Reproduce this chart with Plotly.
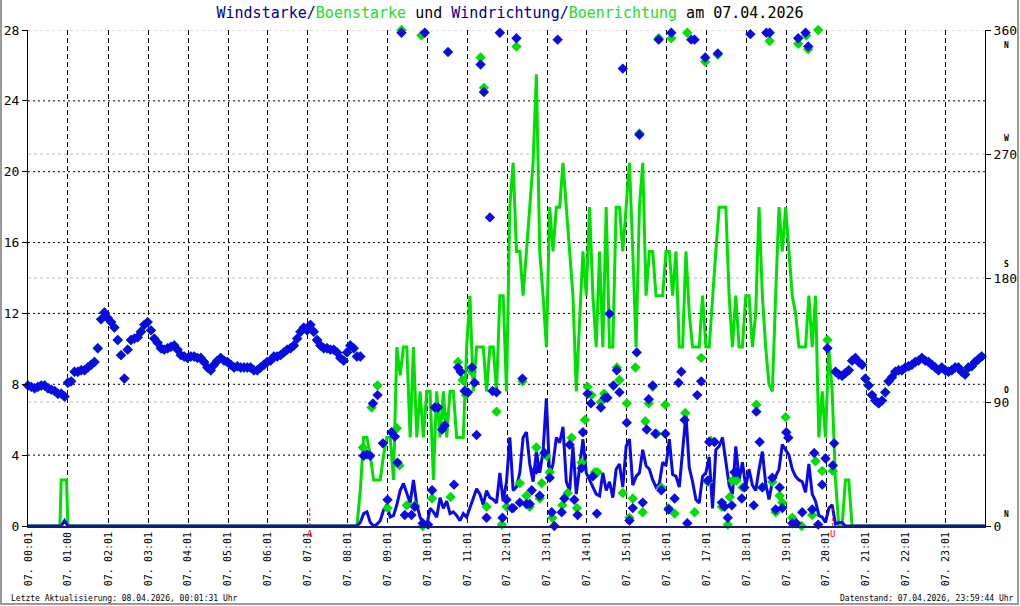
import plotly.graph_objects as go

# ---------------- data ----------------
tick_times = ["00:01", "01:00", "02:01", "03:01", "04:01", "05:01", "06:01", "07:01",
              "08:01", "09:01", "10:01", "11:01", "12:01", "13:01", "14:01", "15:01",
              "16:01", "17:01", "18:01", "19:01", "20:01", "21:01", "22:01", "23:01"]
day_prefix = "07."

# Boenstarke (gust speed) samples (time, value)
gust = [("00:00", 0), ("00:48", 0), ("00:50", 2.6), ("00:58", 2.6), ("01:00", 0),
        ("08:15", 0), ("08:20", 2.0), ("08:25", 5.0), ("08:30", 5.0), ("08:35", 4.0), ("08:40", 2.6),
        ("08:45", 2.6), ("08:50", 2.6), ("08:55", 4.0), ("09:00", 5.0), ("09:05", 5.0), ("09:10", 2.6),
        ("09:15", 10.1), ("09:20", 8.5), ("09:25", 10.1), ("09:30", 10.1), ("09:35", 5.0), ("09:40", 10.1),
        ("09:45", 5.0), ("09:50", 7.6), ("09:55", 5.0), ("10:00", 7.6), ("10:05", 7.6), ("10:10", 2.6),
        ("10:15", 7.6), ("10:20", 5.0), ("10:25", 7.6), ("10:30", 5.0), ("10:35", 7.6), ("10:40", 7.6),
        ("10:45", 5.0), ("10:50", 5.0), ("10:55", 5.0), ("11:00", 10.1), ("11:05", 13.0), ("11:10", 7.6),
        ("11:15", 10.1), ("11:20", 10.1), ("11:25", 10.1), ("11:30", 7.6), ("11:35", 10.1), ("11:40", 10.1),
        ("11:45", 7.6), ("11:50", 13.0), ("11:55", 13.0), ("12:00", 7.6), ("12:05", 18.0), ("12:10", 20.5),
        ("12:15", 15.5), ("12:20", 15.5), ("12:25", 13.0), ("12:30", 15.5), ("12:35", 18.0), ("12:40", 20.5),
        ("12:45", 25.5), ("12:50", 15.5), ("12:55", 13.0), ("13:00", 10.1), ("13:05", 18.0), ("13:10", 15.5),
        ("13:15", 18.0), ("13:20", 18.0), ("13:25", 20.5), ("13:30", 18.0), ("13:35", 15.5), ("13:40", 13.0),
        ("13:45", 7.6), ("13:50", 12.0), ("13:55", 15.5), ("14:00", 13.0), ("14:05", 18.0), ("14:10", 13.0),
        ("14:15", 10.1), ("14:20", 15.5), ("14:25", 10.1), ("14:30", 18.0), ("14:35", 10.1), ("14:40", 10.1),
        ("14:45", 18.0), ("14:50", 18.0), ("14:55", 15.5), ("15:00", 18.0), ("15:05", 20.5), ("15:10", 15.5),
        ("15:15", 10.1), ("15:20", 18.0), ("15:25", 20.5), ("15:30", 13.0), ("15:35", 15.5), ("15:40", 15.5),
        ("15:45", 13.0), ("15:50", 13.0), ("15:55", 13.0), ("16:00", 15.5), ("16:05", 15.5), ("16:10", 13.0),
        ("16:15", 15.5), ("16:20", 10.1), ("16:25", 10.1), ("16:30", 15.5), ("16:35", 12.0), ("16:40", 10.1),
        ("16:45", 10.1), ("16:50", 10.1), ("16:55", 13.0), ("17:00", 10.1), ("17:05", 10.1), ("17:10", 13.0),
        ("17:15", 15.5), ("17:20", 18.0), ("17:25", 18.0), ("17:30", 18.0), ("17:35", 13.0), ("17:40", 10.1),
        ("17:45", 13.0), ("17:50", 10.1), ("17:55", 10.1), ("18:00", 13.0), ("18:05", 13.0), ("18:10", 10.1),
        ("18:15", 12.0), ("18:20", 18.0), ("18:25", 13.0), ("18:30", 10.1), ("18:35", 8.0), ("18:40", 7.6),
        ("18:45", 13.0), ("18:50", 18.0), ("18:55", 15.5), ("19:00", 18.0), ("19:05", 15.5), ("19:10", 13.0),
        ("19:15", 12.0), ("19:20", 10.1), ("19:25", 10.1), ("19:30", 10.1), ("19:35", 13.0), ("19:40", 10.1),
        ("19:45", 13.0), ("19:50", 5.0), ("19:55", 7.6), ("20:00", 5.0), ("20:05", 10.1), ("20:10", 7.6),
        ("20:15", 2.6), ("20:20", 0), ("20:25", 0), ("20:30", 2.6), ("20:35", 2.6), ("20:40", 0), ("24:00", 0)]

# Windstarke (mean wind speed) samples (time, value)
wind = [("00:00", 0), ("00:50", 0), ("00:55", 0.3), ("01:00", 0),
        ("08:15", 0), ("08:20", 0.2), ("08:25", 0.7), ("08:30", 0.8), ("08:35", 0.2), ("08:40", 0.0),
        ("08:45", 0.1), ("08:50", 0.3), ("08:55", 0.9), ("09:00", 1.2), ("09:05", 0.5), ("09:10", 0.6),
        ("09:15", 1.2), ("09:20", 2.0), ("09:25", 2.4), ("09:30", 1.8), ("09:35", 1.3), ("09:40", 2.6),
        ("09:45", 1.2), ("09:50", 0.5), ("09:55", 0.1), ("10:00", 0.0), ("10:05", 1.0), ("10:10", 0.8),
        ("10:15", 0.5), ("10:20", 1.6), ("10:25", 1.0), ("10:30", 1.4), ("10:35", 0.7), ("10:40", 0.8),
        ("10:45", 0.6), ("10:50", 0.3), ("10:55", 0.7), ("11:00", 0.5), ("11:05", 1.0), ("11:10", 1.6),
        ("11:15", 2.1), ("11:20", 1.8), ("11:25", 1.2), ("11:30", 2.0), ("11:35", 1.6), ("11:40", 1.5),
        ("11:45", 1.3), ("11:50", 3.0), ("11:55", 1.4), ("12:00", 2.5), ("12:05", 5.0), ("12:10", 2.0),
        ("12:15", 2.2), ("12:20", 3.0), ("12:25", 5.0), ("12:30", 5.3), ("12:35", 3.5), ("12:40", 2.5),
        ("12:45", 4.2), ("12:50", 3.0), ("12:55", 4.2), ("13:00", 7.2), ("13:05", 2.8), ("13:10", 3.5),
        ("13:15", 5.0), ("13:20", 4.7), ("13:25", 5.6), ("13:30", 2.5), ("13:35", 2.0), ("13:40", 4.5),
        ("13:45", 1.8), ("13:50", 3.3), ("13:55", 4.9), ("14:00", 3.0), ("14:05", 2.6), ("14:10", 2.2),
        ("14:15", 1.8), ("14:20", 1.7), ("14:25", 3.0), ("14:30", 2.0), ("14:35", 2.5), ("14:40", 1.6),
        ("14:45", 3.2), ("14:50", 3.5), ("14:55", 2.2), ("15:00", 4.5), ("15:05", 4.9), ("15:10", 2.3),
        ("15:15", 2.8), ("15:20", 3.0), ("15:25", 4.3), ("15:30", 3.4), ("15:35", 3.2), ("15:40", 2.6),
        ("15:45", 2.2), ("15:50", 2.4), ("15:55", 3.6), ("16:00", 3.4), ("16:05", 4.9), ("16:10", 2.9),
        ("16:15", 2.8), ("16:20", 2.2), ("16:25", 4.5), ("16:30", 6.3), ("16:35", 3.3), ("16:40", 2.5),
        ("16:45", 1.5), ("16:50", 1.3), ("16:55", 2.8), ("17:00", 3.0), ("17:05", 3.9), ("17:10", 1.0),
        ("17:15", 4.3), ("17:20", 4.5), ("17:25", 5.0), ("17:30", 3.5), ("17:35", 2.3), ("17:40", 1.8),
        ("17:45", 4.5), ("17:50", 2.6), ("17:55", 3.6), ("18:00", 2.2), ("18:05", 3.2), ("18:10", 2.3),
        ("18:15", 2.0), ("18:20", 3.2), ("18:25", 4.2), ("18:30", 2.4), ("18:35", 1.5), ("18:40", 2.5),
        ("18:45", 2.8), ("18:50", 3.2), ("18:55", 4.6), ("19:00", 4.3), ("19:05", 4.0), ("19:10", 3.2),
        ("19:15", 2.8), ("19:20", 2.6), ("19:25", 2.5), ("19:30", 1.9), ("19:35", 3.5), ("19:40", 1.8),
        ("19:45", 1.4), ("19:50", 0.6), ("19:55", 0.5), ("20:00", 0.2), ("20:05", 1.0), ("20:10", 1.2),
        ("20:15", 0.1), ("20:20", 0.2), ("20:25", 0.2), ("20:30", 0), ("24:00", 0)]

# Windrichtung, calm morning 00:00-08:20 (5-min steps), degrees
dir_morning = [102, 101, 100, 101, 102, 102, 100, 99, 98, 96, 96, 94,
               104, 105, 112, 112, 113, 113, 115, 117, 119, 129, 150, 155,
               151, 148, 144, 135, 124, 107, 128, 135, 136, 137, 141, 146,
               148, 142, 136, 133, 129, 128, 129, 130, 131, 128, 124, 123,
               122, 123, 123, 122, 122, 119, 115, 113, 117, 120, 122, 120,
               119, 117, 115, 116, 115, 115, 115, 115, 113, 113, 115, 117,
               119, 120, 123, 123, 124, 126, 128, 129, 131, 136, 141, 144,
               142, 146, 141, 135, 131, 129, 129, 128, 128, 126, 122, 120,
               126, 131, 129, 123, 123]
# Windrichtung, calm evening 20:15-23:55 (5-min steps), degrees
dir_evening = [112, 110, 109, 111, 113, 120, 122, 119, 117, 107, 102, 95, 91, 89, 91,
               97, 105, 108, 112, 113, 113, 115, 116, 117, 119, 120, 122, 120, 119, 117,
               115, 113, 115, 113, 112, 113, 115, 115, 112, 110, 115, 116, 119, 121, 123]

# Windrichtung, active period (time, degrees)
wind_dir_active = [("08:25", 51), ("08:30", 52), ("08:35", 51), ("08:39", 89), ("08:46", 95), ("08:54", 60),
                   ("09:01", 19), ("09:07", 68), ("09:12", 65), ("09:16", 46), ("09:22", 358), ("09:27", 8),
                   ("09:37", 8), ("09:42", 14), ("09:54", 2), ("09:57", 358), ("10:02", 1), ("10:08", 26),
                   ("10:12", 86), ("10:17", 86), ("10:23", 70), ("10:27", 73), ("10:32", 344), ("10:41", 30),
                   ("10:47", 115), ("10:51", 112), ("10:57", 98), ("11:02", 97), ("11:08", 115), ("11:12", 104),
                   ("11:15", 66), ("11:21", 335), ("11:26", 315), ("11:30", 6), ("11:35", 224), ("11:39", 98),
                   ("11:45", 97), ("11:50", 358), ("11:54", 6), ("12:00", 19), ("12:08", 13), ("12:10", 13),
                   ("12:15", 354), ("12:20", 17), ("12:24", 107), ("12:30", 16), ("12:35", 16), ("12:38", 26),
                   ("12:45", 41), ("12:50", 22), ("12:57", 53), ("13:05", 35), ("13:08", 10), ("13:12", 0),
                   ("13:17", 353), ("13:23", 10), ("13:27", 20), ("13:35", 59), ("13:42", 19), ("13:47", 8),
                   ("13:53", 42), ("13:55", 68), ("14:02", 96), ("14:07", 89), ("14:10", 36), ("14:16", 9),
                   ("14:22", 86), ("14:28", 93), ("14:32", 93), ("14:35", 154), ("14:41", 102), ("14:46", 113),
                   ("14:50", 97), ("14:55", 332), ("15:01", 75), ("15:05", 4), ("15:10", 13), ("15:16", 126),
                   ("15:20", 284), ("15:25", 17), ("15:31", 70), ("15:34", 92), ("15:40", 102), ("15:44", 67),
                   ("15:49", 353), ("15:53", 26), ("15:59", 67), ("16:04", 12), ("16:08", 358), ("16:13", 20),
                   ("16:19", 104), ("16:23", 112), ("16:28", 77), ("16:32", 2), ("16:38", 353), ("16:43", 353),
                   ("16:47", 95), ("16:53", 105), ("16:59", 340), ("17:03", 33), ("17:05", 61), ("17:13", 61),
                   ("17:18", 343), ("17:24", 17), ("17:28", 14), ("17:33", 6), ("17:39", 15), ("17:43", 39),
                   ("17:46", 39), ("17:54", 20), ("17:58", 28), ("18:07", 357), ("18:12", 15), ("18:16", 83),
                   ("18:21", 61), ("18:25", 28), ("18:31", 358), ("18:36", 358), ("18:40", 35), ("18:45", 12),
                   ("18:51", 28), ("18:55", 13), ("19:01", 68), ("19:04", 64), ("19:10", 2), ("19:16", 2),
                   ("19:19", 354), ("19:25", 10), ("19:30", 358), ("19:34", 348), ("19:40", 12), ("19:43", 53),
                   ("19:49", 1), ("19:55", 30), ("20:00", 49), ("20:03", 129), ("20:11", 44), ("20:13", 60)]

# Boenrichtung, active period (time, degrees)
gust_dir_active = [("08:24", 57), ("08:37", 86), ("08:46", 102), ("09:01", 13), ("09:15", 71), ("09:19", 44),
                   ("09:22", 360), ("09:30", 15), ("09:42", 15), ("09:52", 356), ("09:54", 0), ("10:08", 20),
                   ("10:27", 80), ("10:36", 21), ("10:47", 119), ("10:54", 106), ("10:59", 95), ("11:08", 112),
                   ("11:21", 340), ("11:26", 318), ("11:30", 14), ("11:45", 83), ("11:53", 1), ("12:00", 14),
                   ("12:15", 348), ("12:20", 31), ("12:24", 105), ("12:30", 22), ("12:35", 14), ("12:45", 57),
                   ("12:50", 20), ("12:53", 31), ("13:00", 51), ("13:05", 39), ("13:09", 6), ("13:24", 15),
                   ("13:32", 24), ("13:38", 64), ("13:46", 13), ("13:53", 46), ("13:58", 77), ("14:02", 101),
                   ("14:08", 95), ("14:13", 39), ("14:17", 39), ("14:22", 90), ("14:27", 96), ("14:46", 115),
                   ("14:50", 106), ("14:55", 24), ("15:01", 89), ("15:05", 6), ("15:10", 20), ("15:14", 115),
                   ("15:20", 285), ("15:25", 10), ("15:29", 76), ("15:34", 89), ("15:40", 101), ("15:46", 67),
                   ("15:49", 354), ("15:53", 28), ("15:59", 88), ("16:04", 13), ("16:08", 354), ("16:13", 9),
                   ("16:29", 82), ("16:32", 358), ("16:43", 10), ("16:53", 122), ("16:59", 337), ("17:03", 32),
                   ("17:07", 62), ("17:18", 342), ("17:24", 14), ("17:33", 1), ("17:36", 21), ("17:40", 33),
                   ("17:46", 33), ("17:55", 28), ("18:16", 88), ("18:25", 28), ("18:36", 352), ("18:40", 32),
                   ("18:45", 10), ("18:51", 22), ("18:55", 17), ("19:00", 79), ("19:10", 6), ("19:19", 350),
                   ("19:24", 0), ("19:31", 356), ("19:34", 346), ("19:40", 8), ("19:45", 47), ("19:49", 360),
                   ("19:55", 40), ("20:03", 135), ("20:11", 40)]

sunrise = "07:04"
sunset = "20:11"
title_date = "07.04.2026"
footer_left = "Letzte Aktualisierung: 08.04.2026, 00:01:31 Uhr"
footer_right = "Datenstand: 07.04.2026, 23:59:44 Uhr"
speed_ticks = [0, 4, 8, 12, 16, 20, 24, 28]
dir_ticks = [0, 90, 180, 270, 360]
compass = [("N", 349), ("W", 281), ("S", 190), ("O", 98), ("N", 8)]

# ---------------- helpers ----------------
def hrs(t):
    h, m = t.split(":")
    return int(h) + int(m) / 60.0

morning_times = [m / 60.0 for m in range(0, 5 * len(dir_morning), 5)]
evening_times = [(1215 + m) / 60.0 for m in range(0, 5 * len(dir_evening), 5)]

BLUE = "#0a0ae8"
GREEN = "#00e000"
FONT = "DejaVu Sans Mono"

fig = go.Figure()

fig.add_trace(go.Scatter(x=[hrs(t) for t, _ in gust], y=[v for _, v in gust],
                         mode="lines", line=dict(color=GREEN, width=3), cliponaxis=False,
                         name="Boenstarke"))
fig.add_trace(go.Scatter(x=[hrs(t) for t, _ in wind], y=[v for _, v in wind],
                         mode="lines", line=dict(color=BLUE, width=3), cliponaxis=False,
                         name="Windstarke"))

mk = dict(symbol="diamond", size=8, line=dict(width=0))
gx = morning_times + [hrs(t) for t, _ in gust_dir_active] + evening_times
gy = dir_morning + [v for _, v in gust_dir_active] + dir_evening
fig.add_trace(go.Scatter(x=gx, y=gy, yaxis="y2", mode="markers", cliponaxis=False,
                         marker=dict(color=GREEN, **mk), name="Boenrichtung"))
wx = morning_times + [hrs(t) for t, _ in wind_dir_active] + evening_times
wy = dir_morning + [v for _, v in wind_dir_active] + dir_evening
fig.add_trace(go.Scatter(x=wx, y=wy, yaxis="y2", mode="markers", cliponaxis=False,
                         marker=dict(color=BLUE, **mk), name="Windrichtung"))

shapes = []
for v in speed_ticks[1:-1]:
    shapes.append(dict(type="line", xref="paper", x0=0, x1=1, yref="y", y0=v, y1=v,
                       line=dict(color="black", width=1, dash="2px,3px"), layer="below"))
for v in dir_ticks[1:]:
    shapes.append(dict(type="line", xref="paper", x0=0, x1=1, yref="y2", y0=v, y1=v,
                       line=dict(color="#bdbdbd", width=1, dash="3px,3px"), layer="below"))
for t in (sunrise, sunset):
    shapes.append(dict(type="line", xref="x", x0=hrs(t), x1=hrs(t), yref="y", y0=0, y1=1.0,
                       line=dict(color="red", width=1, dash="3px,2px")))
# outer frame (left, right, bottom)
PW, PH = 957.0, 496.0
def px(xp):
    return (xp - 28) / PW
def py(yp):
    return (526 - yp) / PH
for (x0, y0, x1, y1) in [(1, 0, 1, 605), (1018, 0, 1018, 605), (0, 604, 1019, 604)]:
    shapes.append(dict(type="line", xref="paper", yref="paper", x0=px(x0), x1=px(x1),
                       y0=py(y0), y1=py(y1), line=dict(color="#9a9a9a", width=2)))

annotations = []
for t, letter in ((sunrise, "A"), (sunset, "U")):
    annotations.append(dict(x=hrs(t), y=0, xref="x", yref="y", text=letter, showarrow=False,
                            yanchor="top", yshift=-1, font=dict(family=FONT, size=9, color="red")))
for letter, deg in compass:
    annotations.append(dict(x=px(1011), y=deg, xref="paper", yref="y2", text="<b>%s</b>" % letter,
                            showarrow=False, font=dict(family=FONT, size=8, color="black")))
annotations.append(dict(x=px(9), y=py(598), xref="paper", yref="paper", text=footer_left,
                        showarrow=False, xanchor="left", yanchor="middle",
                        font=dict(family=FONT, size=8, color="black")))
annotations.append(dict(x=px(1016), y=py(598), xref="paper", yref="paper", text=footer_right,
                        showarrow=False, xanchor="right", yanchor="middle",
                        font=dict(family=FONT, size=8, color="black")))

title = ("<span style='color:#00008b'>Windstarke/</span>"
         "<span style='color:#22dd22'>Boenstarke</span> und "
         "<span style='color:#00008b'>Windrichtung/</span>"
         "<span style='color:#22dd22'>Boenrichtung</span> am " + title_date)

fig.update_layout(
    width=1020, height=606,
    margin=dict(l=28, r=35, t=30, b=80),
    plot_bgcolor="white", paper_bgcolor="white",
    showlegend=False,
    title=dict(text=title, x=0.5, xref="container", xanchor="center",
               y=1 - 13.0 / 606, yref="container", yanchor="middle",
               font=dict(family=FONT, size=15, color="black")),
    xaxis=dict(range=[0, 24], tickmode="array", tickvals=[hrs(t) for t in tick_times],
               ticktext=[day_prefix + "\u00a0" + t for t in tick_times], tickangle=-90,
               showgrid=True, gridcolor="black", gridwidth=1, griddash="5px,3px",
               showline=True, linecolor="#1a1a6e", linewidth=2, zeroline=False, ticks="",
               automargin=False, ticklabelstandoff=0,
               tickfont=dict(family=FONT, size=10, color="black")),
    yaxis=dict(range=[0, 28], tickmode="array", tickvals=speed_ticks, showgrid=False,
               zeroline=False, showline=True, linecolor="black", linewidth=1,
               ticks="outside", ticklen=5, tickcolor="black", automargin=False,
               tickfont=dict(family=FONT, size=13, color="black")),
    yaxis2=dict(range=[0, 360], overlaying="y", side="right", tickmode="array",
                tickvals=dir_ticks, showgrid=False, zeroline=False, showline=True,
                linecolor="black", linewidth=1, ticks="outside", ticklen=5, tickcolor="black",
                automargin=False,
                tickfont=dict(family=FONT, size=13, color="black")),
    shapes=shapes,
    annotations=annotations,
)

fig.write_html("out.html")
